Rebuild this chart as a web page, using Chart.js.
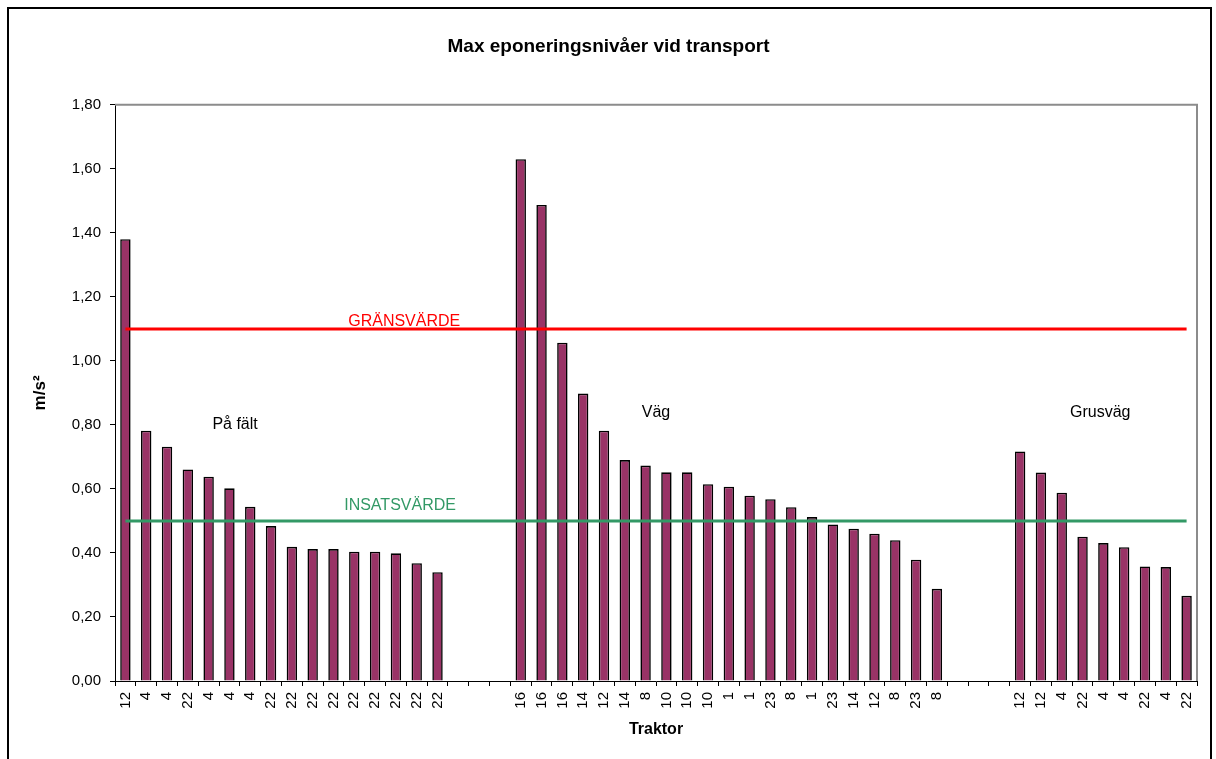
<!DOCTYPE html>
<html>
<head>
<meta charset="utf-8">
<script src="https://cdn.jsdelivr.net/npm/chart.js@4/dist/chart.umd.min.js"></script>
<style>
  html, body { margin: 0; padding: 0; background: #ffffff; overflow: hidden; }
  #wrap { position: relative; width: 1216px; height: 759px; }
  #frame { position: absolute; left: 7px; top: 7px; width: 1201px; height: 800px; border: 2px solid #000; pointer-events: none; }
  canvas { position: absolute; left: 0; top: 0; }
</style>
</head>
<body>
<div id="wrap">
  <canvas id="c" width="1216" height="759"></canvas>
  <div id="frame"></div>
</div>
<script>
// Tractor labels per category (empty strings are the gaps between groups)
const categories = [
  '12','4','4','22','4','4','4','22','22','22','22','22','22','22','22','22',
  '','','',
  '16','16','16','14','12','14','8','10','10','10','1','1','23','8','1','23','14','12','8','23','8',
  '','','',
  '12','12','4','22','4','4','22','4','22'
];
const valuesPaFalt = [1.38,0.782,0.732,0.661,0.638,0.602,0.544,0.484,0.419,0.412,0.412,0.404,0.404,0.399,0.368,0.340];
const valuesVag = [1.63,1.487,1.057,0.898,0.782,0.690,0.673,0.652,0.652,0.615,0.607,0.579,0.568,0.543,0.512,0.489,0.476,0.460,0.440,0.379,0.288];
const valuesGrusvag = [0.717,0.651,0.588,0.451,0.431,0.418,0.358,0.356,0.266];
const gap = [null,null,null];
const barValues = [].concat(valuesPaFalt, gap, valuesVag, gap, valuesGrusvag);
const gransvarde = 1.10;
const insatsvarde = 0.50;
const yTicks = [0,0.2,0.4,0.6,0.8,1.0,1.2,1.4,1.6,1.8];

const FONT = "'Liberation Sans', Arial, sans-serif";

const annotations = [
  {text: 'GRÄNSVÄRDE', idx: 13.4, val: 1.124, color: '#ff0000'},
  {text: 'INSATSVÄRDE', idx: 13.2, val: 0.548, color: '#339966'},
  {text: 'På fält', idx: 5.27, val: 0.80, color: '#000000'},
  {text: 'Väg', idx: 25.5, val: 0.84, color: '#000000'},
  {text: 'Grusväg', idx: 46.85, val: 0.84, color: '#000000'}
];

const annoPlugin = {
  id: 'anno',
  afterDatasetsDraw(chart) {
    const {ctx, chartArea, scales} = chart;
    ctx.save();
    // plot area border (top + right)
    ctx.strokeStyle = '#8c8c8c';
    ctx.lineWidth = 2;
    ctx.beginPath();
    ctx.moveTo(chartArea.left, chartArea.top);
    ctx.lineTo(chartArea.right, chartArea.top);
    ctx.lineTo(chartArea.right, chartArea.bottom);
    ctx.stroke();
    ctx.font = '16px ' + FONT;
    ctx.textAlign = 'center';
    ctx.textBaseline = 'middle';
    annotations.forEach(a => {
      const x = scales.x.getPixelForValue(a.idx);
      const y = scales.y.getPixelForValue(a.val);
      ctx.fillStyle = a.color;
      ctx.fillText(a.text, x, y);
    });
    ctx.restore();
  }
};

new Chart(document.getElementById('c'), {
  type: 'bar',
  data: {
    labels: categories,
    datasets: [
      {
        type: 'line', label: 'GRÄNSVÄRDE',
        data: categories.map(() => gransvarde),
        borderColor: '#ff0000', borderWidth: 3, pointRadius: 0, fill: false, order: 0
      },
      {
        type: 'line', label: 'INSATSVÄRDE',
        data: categories.map(() => insatsvarde),
        borderColor: '#339966', borderWidth: 3, pointRadius: 0, fill: false, order: 0
      },
      {
        type: 'bar', label: 'Max',
        data: barValues,
        backgroundColor: '#993366', borderColor: '#000000', borderWidth: 1.6,
        barPercentage: 0.5, categoryPercentage: 1.0, order: 1
      }
    ]
  },
  options: {
    responsive: false,
    animation: false,
    devicePixelRatio: 1,
    layout: { padding: { left: 20, right: 19, top: 0, bottom: 10 } },
    plugins: {
      legend: { display: false },
      tooltip: { enabled: false },
      title: {
        display: true,
        text: 'Max eponeringsnivåer vid transport',
        color: '#000',
        font: { family: FONT, size: 19, weight: 'bold' },
        padding: { top: 35, bottom: 47 }
      }
    },
    scales: {
      x: {
        type: 'category',
        offset: true,
        grid: { display: true, drawOnChartArea: false, drawTicks: true, tickLength: 5, color: '#000', offset: true },
        border: { display: true, color: '#000', width: 1 },
        ticks: {
          autoSkip: false, minRotation: 90, maxRotation: 90, padding: 6,
          color: '#000', font: { family: FONT, size: 15 }
        },
        title: {
          display: true, text: 'Traktor', color: '#000',
          font: { family: FONT, size: 16, weight: 'bold' },
          padding: { top: 0, bottom: 10 }
        },
        afterFit(scale) { scale.height = 68; }
      },
      y: {
        min: 0, max: 1.8,
        afterBuildTicks(scale) { scale.ticks = yTicks.map(v => ({value: v})); },
        grid: { display: true, drawOnChartArea: false, drawTicks: true, tickLength: 5, color: '#000' },
        border: { display: true, color: '#000', width: 1 },
        ticks: {
          padding: 9, color: '#000', font: { family: FONT, size: 15 },
          callback: v => v.toFixed(2).replace('.', ',')
        },
        title: {
          display: true, text: 'm/s²', color: '#000',
          font: { family: FONT, size: 17, weight: 'bold' },
          padding: { top: 10, bottom: 0 }
        },
        afterFit(scale) { scale.width = 95; }
      }
    }
  },
  plugins: [annoPlugin]
});
</script>
</body>
</html>
